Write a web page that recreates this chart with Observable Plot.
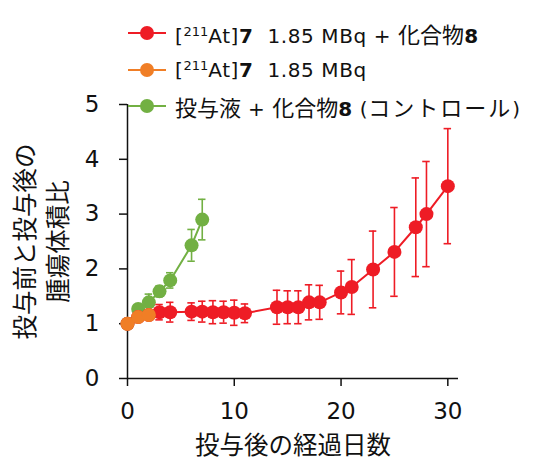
<!DOCTYPE html>
<html><head><meta charset="utf-8">
<script src="https://cdn.jsdelivr.net/npm/d3@7"></script>
<script src="https://cdn.jsdelivr.net/npm/@observablehq/plot@0.6"></script>
<style>
body{margin:0;background:#fff;}
#wrap{position:relative;width:557px;height:466px;overflow:hidden;}
#legend{position:absolute;left:0;top:0;width:557px;font-family:"DejaVu Sans","Noto Sans CJK JP",sans-serif;font-size:20px;letter-spacing:0.6px;color:#111;}
.item{position:absolute;left:128px;display:flex;align-items:center;height:30px;white-space:nowrap;}
.item svg{margin-right:9px;}
.jp{font-family:"Noto Sans CJK JP",sans-serif;font-size:22px;letter-spacing:0;}
.kana{letter-spacing:2px;}
sup{font-size:13px;vertical-align:7px;line-height:0;letter-spacing:0;}
b{font-weight:700;}
</style></head>
<body><div id="wrap"><div id="chart"></div><div id="legend"></div></div>
<script>
const colors = {red:"#EE1C25", orange:"#F07E26", green:"#72B043"};

const redDays = [0,1,2,3,4,6,7,8,9,10,11,14,15,16,17,18,20,21,23,25,27,28,30];
const redMean = [1.0,1.12,1.16,1.21,1.21,1.22,1.22,1.21,1.21,1.20,1.19,1.30,1.30,1.30,1.39,1.39,1.57,1.67,1.99,2.31,2.76,3.0,3.51];
const redErr  = [0,0.03,0.04,0.14,0.18,0.16,0.19,0.21,0.2,0.23,0.17,0.31,0.3,0.3,0.32,0.31,0.39,0.5,0.7,0.81,0.9,0.96,1.05];

const orangeDays = [0,1,2];
const orangeMean = [1.0,1.12,1.16];
const orangeErr  = [0,0,0];

const greenDays = [0,1,2,3,4,6,7];
const greenMean = [1.0,1.27,1.39,1.59,1.79,2.43,2.9];
const greenErr  = [0,0.05,0.15,0.1,0.14,0.29,0.37];

const xTicks = [0,10,20,30];
const yTicks = [0,1,2,3,4,5];
const xLabel = "投与後の経過日数";
const yLabel = "投与前と投与後の\n腫瘍体積比";

const legendItems = [
  {color: colors.red, html: "[<sup>211</sup>At]<b>7</b>&nbsp; 1.85 MBq + <span class='jp'>化合物</span><b>8</b>"},
  {color: colors.orange, html: "[<sup>211</sup>At]<b>7</b>&nbsp; 1.85 MBq"},
  {color: colors.green, html: "<span class='jp'>投与液</span> + <span class='jp'>化合物</span><b>8</b> (<span class='jp kana'>コントロール</span>)"}
];

const mk = (days, mean, err, color) => days.map((d,i)=>({x:d, y:mean[i], e:err[i], color}));
const series = [
  mk(greenDays, greenMean, greenErr, colors.green),
  mk(redDays, redMean, redErr, colors.red),
  mk(orangeDays, orangeMean, orangeErr, colors.orange)
];

const cap = 0.35;
const marks = [
  Plot.ruleX([0], {stroke:"#111", strokeWidth:1.5}),
  Plot.ruleY([0], {stroke:"#111", strokeWidth:1.5}),
  Plot.axisX({ticks:xTicks, tickFormat:d=>String(d), tickSize:8, tickPadding:16, fontSize:23, label:null, strokeWidth:1.5}),
  Plot.axisY({ticks:yTicks, tickFormat:d=>String(d), tickSize:8, tickPadding:20, fontSize:23, label:null, strokeWidth:1.5}),
  Plot.text([yLabel], {frameAnchor:"left", dx:-88, rotate:-90, fontSize:24.5, lineHeight:1.36, textAnchor:"middle", lineAnchor:"middle", fill:"#111"}),
  Plot.text([xLabel], {frameAnchor:"bottom", dy:68, fontSize:24.5, textAnchor:"middle", lineAnchor:"middle", fill:"#111"})
];
for (const s of series) {
  const c = s[0].color;
  const eb = s.filter(d=>d.e>0);
  marks.push(
    Plot.line(s, {x:"x", y:"y", stroke:c, strokeWidth:2}),
    Plot.ruleX(eb, {x:"x", y1:d=>d.y-d.e, y2:d=>d.y+d.e, stroke:c, strokeWidth:1.6}),
    Plot.ruleY(eb, {y:d=>d.y+d.e, x1:d=>d.x-cap, x2:d=>d.x+cap, stroke:c, strokeWidth:1.6}),
    Plot.ruleY(eb, {y:d=>d.y-d.e, x1:d=>d.x-cap, x2:d=>d.x+cap, stroke:c, strokeWidth:1.6}),
    Plot.dot(s, {x:"x", y:"y", r:7, fill:c})
  );
}

const chart = Plot.plot({
  width:557, height:466,
  marginLeft:127, marginRight:99, marginTop:104, marginBottom:88,
  x:{domain:[0,31]},
  y:{domain:[0,5]},
  style:{fontFamily:"'DejaVu Sans', 'Noto Sans CJK JP', sans-serif", color:"#111", background:"#fff"},
  marks
});
chart.querySelectorAll("text").forEach(t=>{ if (/[\u3040-\u9fff]/.test(t.textContent)) t.style.fontFamily = "'Noto Sans CJK JP', sans-serif"; });
document.getElementById("chart").appendChild(chart);

const lg = document.getElementById("legend");
const rowCenters = [33, 70, 106];
legendItems.forEach((it,i)=>{
  const div = document.createElement("div");
  div.className = "item";
  div.style.top = (rowCenters[i]-15)+"px";
  div.innerHTML = `<svg width="38" height="18"><line x1="0" x2="38" y1="9" y2="9" stroke="${it.color}" stroke-width="2"/><circle cx="19" cy="9" r="7" fill="${it.color}"/></svg><span>${it.html}</span>`;
  lg.appendChild(div);
});
</script>
</body></html>
